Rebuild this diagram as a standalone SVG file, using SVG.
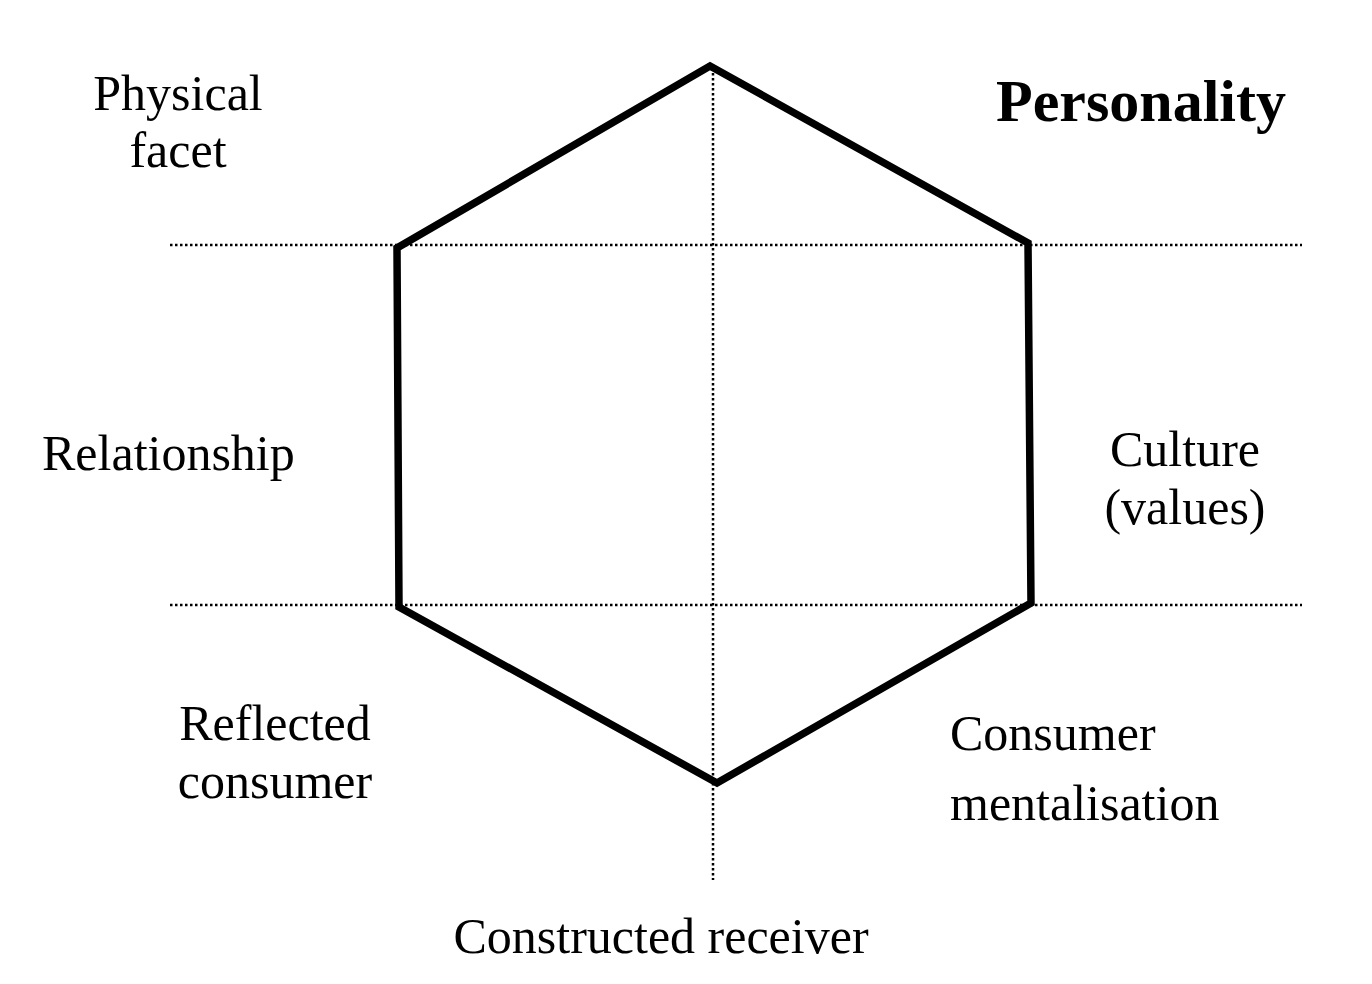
<svg xmlns="http://www.w3.org/2000/svg" width="1372" height="984" viewBox="0 0 1372 984">
<style>
.lbl{font-family:"Liberation Serif","Times New Roman",serif;font-size:50px;fill:#000}
.bold{font-weight:bold;font-size:60px}
.dot{stroke:#000;stroke-width:2.5;stroke-dasharray:2.5 2.5;fill:none}
.hex{stroke:#000;stroke-width:7.5;fill:none;stroke-linejoin:miter}
</style>
<rect width="1372" height="984" fill="#fff"/>
<g id="connectors">
<line class="dot" x1="170" y1="245" x2="1302" y2="245"/>
<line class="dot" x1="170" y1="605" x2="1302" y2="605"/>
<line class="dot" x1="713" y1="68" x2="713" y2="880"/>
</g>
<g id="hexagon">
<polygon class="hex" points="710,66 1028,243 1031,603 717,783 399,607 397,248"/>
</g>
<g id="physical"><text class="lbl" text-anchor="middle" x="178" y="110">Physical</text><text class="lbl" text-anchor="middle" x="178" y="167">facet</text></g>
<g id="personality"><text class="lbl bold" x="996" y="121">Personality</text></g>
<g id="relationship"><text class="lbl" x="42" y="470">Relationship</text></g>
<g id="culture"><text class="lbl" text-anchor="middle" x="1185" y="466">Culture</text><text class="lbl" text-anchor="middle" x="1185" y="524">(values)</text></g>
<g id="reflected"><text class="lbl" text-anchor="middle" x="275" y="740">Reflected</text><text class="lbl" text-anchor="middle" x="275" y="798">consumer</text></g>
<g id="mentalisation"><text class="lbl" x="950" y="750">Consumer</text><text class="lbl" x="950" y="820">mentalisation</text></g>
<g id="constructed"><text class="lbl" text-anchor="middle" x="661" y="953">Constructed receiver</text></g>
</svg>
